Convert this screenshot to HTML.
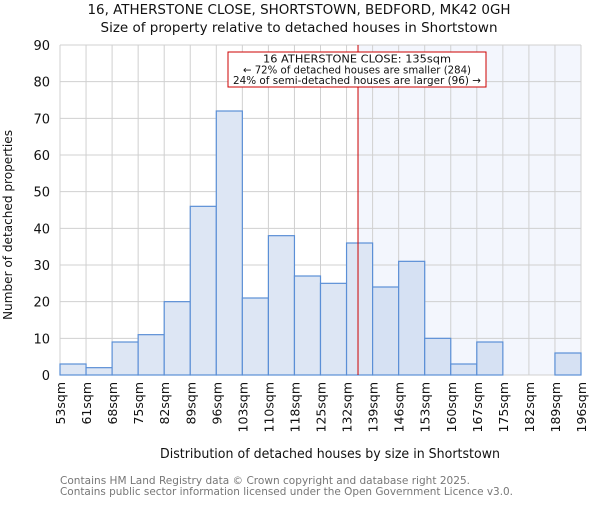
<!DOCTYPE html>
<html><head><meta charset="utf-8"><style>
body{margin:0;background:#fff;}
svg{font-family:"DejaVu Sans","Liberation Sans",sans-serif;}
</style></head><body>
<svg id="c" width="600" height="500" xmlns="http://www.w3.org/2000/svg">
<text x="299" y="14" text-anchor="middle" font-size="13.5" fill="#111" textLength="423" lengthAdjust="spacingAndGlyphs">16, ATHERSTONE CLOSE, SHORTSTOWN, BEDFORD, MK42 0GH</text>
<text x="299" y="32" text-anchor="middle" font-size="13" fill="#111" textLength="397" lengthAdjust="spacingAndGlyphs">Size of property relative to detached houses in Shortstown</text>
<g id="plot"></g>
<text x="330" y="458" text-anchor="middle" font-size="13" fill="#111" textLength="340" lengthAdjust="spacingAndGlyphs">Distribution of detached houses by size in Shortstown</text>
<text transform="translate(12,225) rotate(-90)" text-anchor="middle" font-size="12" fill="#111" textLength="190" lengthAdjust="spacingAndGlyphs">Number of detached properties</text>
<text x="60" y="484" font-size="11" fill="#777" textLength="410" lengthAdjust="spacingAndGlyphs">Contains HM Land Registry data © Crown copyright and database right 2025.</text>
<text x="60" y="495" font-size="11" fill="#777" textLength="453" lengthAdjust="spacingAndGlyphs">Contains public sector information licensed under the Open Government Licence v3.0.</text>
</svg>
<script>
const categories=["53sqm","61sqm","68sqm","75sqm","82sqm","89sqm","96sqm","103sqm","110sqm","118sqm","125sqm","132sqm","139sqm","146sqm","153sqm","160sqm","167sqm","175sqm","182sqm","189sqm","196sqm"];
const counts=[3,2,9,11,20,46,72,21,38,27,25,36,24,31,10,3,9,0,0,6];
const yTicks=[0,10,20,30,40,50,60,70,80,90];
const markerBin=11.44;
const annotationLines=["16 ATHERSTONE CLOSE: 135sqm","← 72% of detached houses are smaller (284)","24% of semi-detached houses are larger (96) →"];
const L=60,R=581,T=45,B=375,yMax=90;
const n=counts.length,bw=(R-L)/n;
const x=i=>L+i*bw, y=v=>B-(v/yMax)*(B-T);
const g=document.getElementById('plot'),NS="http://www.w3.org/2000/svg";
function el(t,a,p){const e=document.createElementNS(NS,t);for(const k in a)e.setAttribute(k,a[k]);(p||g).appendChild(e);return e;}
const mx=x(markerBin);
const sh=el('rect',{x:mx,y:T,width:R-mx,height:B-T,fill:'#f3f6fd'});


for(let i=0;i<=n;i++){const l=el('line',{x1:x(i),x2:x(i),y1:T,y2:B,stroke:'#d0d0d0','stroke-width':1});

}
yTicks.forEach(v=>{const l=el('line',{x1:L,x2:R,y1:y(v),y2:y(v),stroke:'#d0d0d0','stroke-width':1});


const t=el('text',{x:L-10,y:y(v)+5,'text-anchor':'end','font-size':13,fill:'#111'});t.textContent=v;

});
counts.forEach((v,i)=>{const r=el('rect',{x:x(i),y:y(v),width:bw,height:B-y(v),fill:i>=12?'#d6e1f3':'#dde6f4',stroke:'#5b8fd6','stroke-width':1.2});

});
categories.forEach((c,i)=>{const t=el('text',{transform:`translate(${x(i)+5},382) rotate(-90)`,'text-anchor':'end','font-size':12.5,fill:'#111'});t.textContent=c;

});
const ml=el('line',{x1:mx,x2:mx,y1:T,y2:B,stroke:'#cc0000','stroke-width':1});


const bx=el('rect',{x:228,y:52,width:258,height:35,fill:'#fff',stroke:'#cc0000','stroke-width':1});


const tl=[188,228,248];
annotationLines.forEach((s,i)=>{const t=el('text',{x:357,y:62.5+i*10.8,'text-anchor':'middle','font-size':10.5,fill:'#111',textLength:tl[i],lengthAdjust:'spacingAndGlyphs'});t.textContent=s;

});
</script>
</body></html>
